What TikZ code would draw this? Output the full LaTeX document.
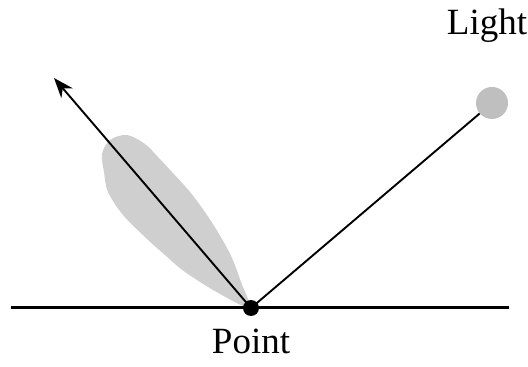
\documentclass[tikz,border=0pt]{standalone}
\usepackage{fontspec}
\setmainfont{Liberation Serif}
\usetikzlibrary{arrows.meta}
\begin{document}
\begin{tikzpicture}[x=1pt,y=1pt,
  lbl/.style={font=\fontsize{37}{40}\selectfont, inner sep=0pt, anchor=base},
  ray/.style={line width=1.9pt, black},
  lobe/.style={fill=black!19},
  lightsrc/.style={circle, fill=black!25, minimum size=32pt, inner sep=0pt}]
\useasboundingbox (0,0) rectangle (528,367);
% lobe
\begin{scope}[yshift=-2pt]
\fill[lobe] plot[smooth cycle, tension=0.55] coordinates {
  (249,62) (241,87) (232,111) (222,130) (207,154) (190,177) (172,197)
  (158,212) (145,225) (127,234) (110,229) (102,215) (104,197) (108,177)
  (123,154) (147,130) (165,114) (185,97) (220,75)};
\end{scope}
\coordinate (l) at (11,59);
\coordinate (r) at (509,59);
\draw[line width=3pt] (l) -- (r);
\node[circle, fill=black, minimum size=16pt, inner sep=0pt] (p) at (251,59) {};
\node[lightsrc] (light) at (492,264) {};
\coordinate (tip) at (54,289);
\draw[ray, -{Stealth[length=20pt,width=15pt]}] (p.center) -- (tip);
\draw[ray] (p.center) -- (light);
\node[lbl] (pt) at (251,13) {Point};
\node[lbl] (lt) at (487,332) {Light};
\end{tikzpicture}
\end{document}
